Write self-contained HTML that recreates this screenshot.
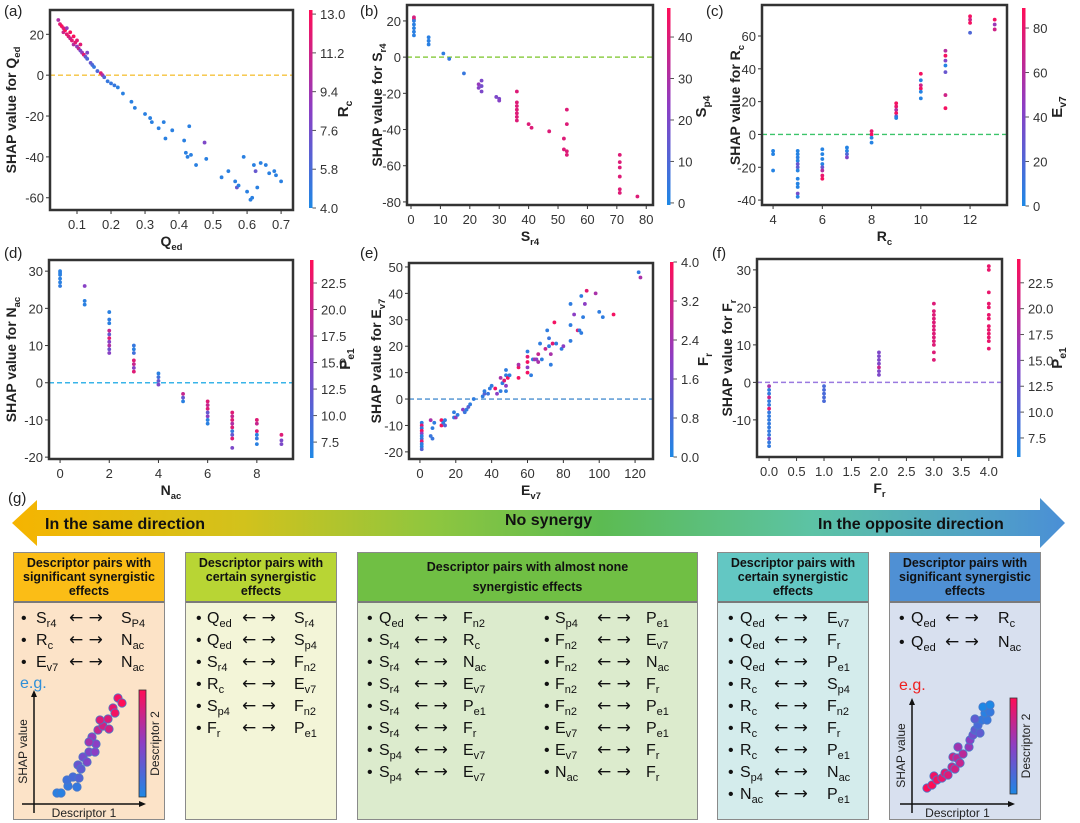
<!DOCTYPE html>
<html><head><meta charset="utf-8">
<style>
body{margin:0;width:1080px;height:823px;background:#fff;position:relative;overflow:hidden;font-family:"Liberation Sans",Arial,sans-serif}
#main{position:absolute;left:0;top:0;z-index:0}
#over{position:absolute;left:0;top:0;z-index:2;pointer-events:none}
.box{position:absolute;top:552px;height:268px;border:1.5px solid #8a8a8a;box-sizing:border-box;z-index:1}
.hd{height:50px;display:flex;align-items:center;justify-content:center;text-align:center;font-weight:bold;font-size:12.5px;line-height:14px;color:#111;border-bottom:2px solid #7a7a7a;box-sizing:border-box}
.row{position:absolute;left:0;height:20px;width:100%;font-size:16px;line-height:20px;color:#111}
.row span{position:absolute;top:0;white-space:nowrap}
.row .ar{font-family:"DejaVu Sans",sans-serif;font-size:17px;top:-1px}
sub{font-size:11px;vertical-align:-4px;line-height:0}
#b1 .b{left:7px}#b1 .t1{left:22px}#b1 .ar{left:55px}#b1 .t2{left:107px}
#b2 .b{left:10px}#b2 .t1{left:21px}#b2 .ar{left:56px}#b2 .t2{left:108px}
#b3 .b{left:9px}#b3 .t1{left:21px}#b3 .ar{left:56px}#b3 .t2{left:105px}
#b3 .c2 .b{left:186px}#b3 .c2 .t1{left:197px}#b3 .c2 .ar{left:239px}#b3 .c2 .t2{left:288px}
#b4 .b{left:10px}#b4 .t1{left:22px}#b4 .ar{left:56px}#b4 .t2{left:109px}
#b5 .b{left:9px}#b5 .t1{left:21px}#b5 .ar{left:55px}#b5 .t2{left:108px}
</style></head>
<body>
<svg id="main" width="1080" height="823" xmlns="http://www.w3.org/2000/svg">
<defs>
<linearGradient id="cb" x1="0" y1="1" x2="0" y2="0"><stop offset="0" stop-color="rgb(30,136,229)"/><stop offset="0.5" stop-color="rgb(140,62,196)"/><stop offset="1" stop-color="rgb(255,13,87)"/></linearGradient>
<linearGradient id="arr" x1="0" y1="0" x2="1" y2="0"><stop offset="0" stop-color="#f6b400"/><stop offset="0.22" stop-color="#d2c21c"/><stop offset="0.4" stop-color="#8ec63f"/><stop offset="0.56" stop-color="#5cbb52"/><stop offset="0.76" stop-color="#5cc3a5"/><stop offset="1" stop-color="#4a8fd6"/></linearGradient>
</defs>
<g>
<polygon points="12,523 37,500 37,510 1040,510 1040,498 1065,523 1040,548 1040,536 37,536 37,546" fill="url(#arr)"/>
<text x="45" y="529" font-size="16" font-weight="bold" fill="#111">In the same direction</text>
<text x="505" y="525" font-size="16" font-weight="bold" fill="#111">No synergy</text>
<text x="818" y="529" font-size="16" font-weight="bold" fill="#111">In the opposite direction</text>
</g>
<text x="8" y="503" font-size="15" fill="#222">(g)</text>
</svg>

<div class="box" id="b1" style="left:13px;width:152px;background:#fce3c8">
<div class="hd" style="background:#fbbd16">Descriptor pairs with significant synergistic effects</div>
<div class="row" style="top:56px"><span class="b">•</span><span class="t1">S<sub>r4</sub></span><span class="ar">← →</span><span class="t2">S<sub>P4</sub></span></div>
<div class="row" style="top:78px"><span class="b">•</span><span class="t1">R<sub>c</sub></span><span class="ar">← →</span><span class="t2">N<sub>ac</sub></span></div>
<div class="row" style="top:100px"><span class="b">•</span><span class="t1">E<sub>v7</sub></span><span class="ar">← →</span><span class="t2">N<sub>ac</sub></span></div>
</div>
<div class="box" id="b2" style="left:185px;width:152px;background:#f3f5d8">
<div class="hd" style="background:#b8d534">Descriptor pairs with certain synergistic effects</div>
<div class="row" style="top:56px"><span class="b">•</span><span class="t1">Q<sub>ed</sub></span><span class="ar">← →</span><span class="t2">S<sub>r4</sub></span></div>
<div class="row" style="top:78px"><span class="b">•</span><span class="t1">Q<sub>ed</sub></span><span class="ar">← →</span><span class="t2">S<sub>p4</sub></span></div>
<div class="row" style="top:100px"><span class="b">•</span><span class="t1">S<sub>r4</sub></span><span class="ar">← →</span><span class="t2">F<sub>n2</sub></span></div>
<div class="row" style="top:122px"><span class="b">•</span><span class="t1">R<sub>c</sub></span><span class="ar">← →</span><span class="t2">E<sub>v7</sub></span></div>
<div class="row" style="top:144px"><span class="b">•</span><span class="t1">S<sub>p4</sub></span><span class="ar">← →</span><span class="t2">F<sub>n2</sub></span></div>
<div class="row" style="top:166px"><span class="b">•</span><span class="t1">F<sub>r</sub></span><span class="ar">← →</span><span class="t2">P<sub>e1</sub></span></div>
</div>
<div class="box" id="b3" style="left:357px;width:341px;background:#dcebcd">
<div class="hd" style="background:#70bf44;line-height:20px">Descriptor pairs with almost none<br>synergistic effects</div>
<div class="row" style="top:56px"><span class="b">•</span><span class="t1">Q<sub>ed</sub></span><span class="ar">← →</span><span class="t2">F<sub>n2</sub></span></div>
<div class="row" style="top:78px"><span class="b">•</span><span class="t1">S<sub>r4</sub></span><span class="ar">← →</span><span class="t2">R<sub>c</sub></span></div>
<div class="row" style="top:100px"><span class="b">•</span><span class="t1">S<sub>r4</sub></span><span class="ar">← →</span><span class="t2">N<sub>ac</sub></span></div>
<div class="row" style="top:122px"><span class="b">•</span><span class="t1">S<sub>r4</sub></span><span class="ar">← →</span><span class="t2">E<sub>v7</sub></span></div>
<div class="row" style="top:144px"><span class="b">•</span><span class="t1">S<sub>r4</sub></span><span class="ar">← →</span><span class="t2">P<sub>e1</sub></span></div>
<div class="row" style="top:166px"><span class="b">•</span><span class="t1">S<sub>r4</sub></span><span class="ar">← →</span><span class="t2">F<sub>r</sub></span></div>
<div class="row" style="top:188px"><span class="b">•</span><span class="t1">S<sub>p4</sub></span><span class="ar">← →</span><span class="t2">E<sub>v7</sub></span></div>
<div class="row" style="top:210px"><span class="b">•</span><span class="t1">S<sub>p4</sub></span><span class="ar">← →</span><span class="t2">E<sub>v7</sub></span></div>
<div class="row c2" style="top:56px"><span class="b">•</span><span class="t1">S<sub>p4</sub></span><span class="ar">← →</span><span class="t2">P<sub>e1</sub></span></div>
<div class="row c2" style="top:78px"><span class="b">•</span><span class="t1">F<sub>n2</sub></span><span class="ar">← →</span><span class="t2">E<sub>v7</sub></span></div>
<div class="row c2" style="top:100px"><span class="b">•</span><span class="t1">F<sub>n2</sub></span><span class="ar">← →</span><span class="t2">N<sub>ac</sub></span></div>
<div class="row c2" style="top:122px"><span class="b">•</span><span class="t1">F<sub>n2</sub></span><span class="ar">← →</span><span class="t2">F<sub>r</sub></span></div>
<div class="row c2" style="top:144px"><span class="b">•</span><span class="t1">F<sub>n2</sub></span><span class="ar">← →</span><span class="t2">P<sub>e1</sub></span></div>
<div class="row c2" style="top:166px"><span class="b">•</span><span class="t1">E<sub>v7</sub></span><span class="ar">← →</span><span class="t2">P<sub>e1</sub></span></div>
<div class="row c2" style="top:188px"><span class="b">•</span><span class="t1">E<sub>v7</sub></span><span class="ar">← →</span><span class="t2">F<sub>r</sub></span></div>
<div class="row c2" style="top:210px"><span class="b">•</span><span class="t1">N<sub>ac</sub></span><span class="ar">← →</span><span class="t2">F<sub>r</sub></span></div>
</div>
<div class="box" id="b4" style="left:717px;width:152px;background:#d4ecec">
<div class="hd" style="background:#63c7c3">Descriptor pairs with certain synergistic effects</div>
<div class="row" style="top:56px"><span class="b">•</span><span class="t1">Q<sub>ed</sub></span><span class="ar">← →</span><span class="t2">E<sub>v7</sub></span></div>
<div class="row" style="top:78px"><span class="b">•</span><span class="t1">Q<sub>ed</sub></span><span class="ar">← →</span><span class="t2">F<sub>r</sub></span></div>
<div class="row" style="top:100px"><span class="b">•</span><span class="t1">Q<sub>ed</sub></span><span class="ar">← →</span><span class="t2">P<sub>e1</sub></span></div>
<div class="row" style="top:122px"><span class="b">•</span><span class="t1">R<sub>c</sub></span><span class="ar">← →</span><span class="t2">S<sub>p4</sub></span></div>
<div class="row" style="top:144px"><span class="b">•</span><span class="t1">R<sub>c</sub></span><span class="ar">← →</span><span class="t2">F<sub>n2</sub></span></div>
<div class="row" style="top:166px"><span class="b">•</span><span class="t1">R<sub>c</sub></span><span class="ar">← →</span><span class="t2">F<sub>r</sub></span></div>
<div class="row" style="top:188px"><span class="b">•</span><span class="t1">R<sub>c</sub></span><span class="ar">← →</span><span class="t2">P<sub>e1</sub></span></div>
<div class="row" style="top:210px"><span class="b">•</span><span class="t1">S<sub>p4</sub></span><span class="ar">← →</span><span class="t2">N<sub>ac</sub></span></div>
<div class="row" style="top:232px"><span class="b">•</span><span class="t1">N<sub>ac</sub></span><span class="ar">← →</span><span class="t2">P<sub>e1</sub></span></div>
</div>
<div class="box" id="b5" style="left:889px;width:152px;background:#d8e0ef">
<div class="hd" style="background:#4f90d4">Descriptor pairs with significant synergistic effects</div>
<div class="row" style="top:56px"><span class="b">•</span><span class="t1">Q<sub>ed</sub></span><span class="ar">← →</span><span class="t2">R<sub>c</sub></span></div>
<div class="row" style="top:80px"><span class="b">•</span><span class="t1">Q<sub>ed</sub></span><span class="ar">← →</span><span class="t2">N<sub>ac</sub></span></div>
</div>

<svg id="over" width="1080" height="823" xmlns="http://www.w3.org/2000/svg">
<text x="20" y="688" font-size="16" fill="#2f8fd8">e.g.</text>
<text x="899" y="690" font-size="16" fill="#ee2020">e.g.</text>
</svg>

<script>
const NS='http://www.w3.org/2000/svg';
// ---------- data ----------
const aX=[0.045,0.05,0.055,0.06,0.06,0.065,0.07,0.07,0.075,0.08,0.08,0.085,0.09,0.09,0.095,0.1,0.1,0.105,0.11,0.11,0.115,0.12,0.125,0.13,0.13,0.14,0.145,0.15,0.16,0.17,0.175,0.18,0.19,0.2,0.21,0.22,0.235,0.26,0.27,0.3,0.315,0.32,0.34,0.355,0.36,0.38,0.415,0.42,0.425,0.43,0.435,0.45,0.475,0.48,0.525,0.545,0.565,0.57,0.575,0.59,0.6,0.61,0.615,0.62,0.625,0.63,0.64,0.655,0.665,0.68,0.685,0.7];
const aY=[27,25,24,23,21,22,20,23,19,21,18,17,19,15,16,14,17,13,12,15,11,10,9,8,11,6,5,4,2,1,0,-1,-3,-4,-5,-6,-9,-13,-16,-19,-21,-23,-26,-23,-31,-27,-32,-38,-40,-25,-39,-44,-33,-41,-50,-47,-52,-55,-54,-40,-57,-61,-60,-44,-47,-55,-43,-44,-48,-47,-49,-52];
const aC=[10,12,13,12,11,13,12,9,12,13,11,12,13,10,12,9,12,11,8,12,9,12,7,6,8,7,6,5,6,12,10,6,5,5,5,4.5,4.5,4.5,4.5,4.5,4.5,4.5,4.5,4.5,4.5,4.5,4.5,4.5,4.5,4.5,4.5,4.5,8,4.5,4.5,4.5,4.5,7,4.5,4.5,4.5,4.5,4.5,4.5,7,4.5,4.5,4.5,4.5,4.5,4.5,4.5];
const aXTicks=[0.1,0.2,0.3,0.4,0.5,0.6,0.7];
const aYTicks=[20,0,-20,-40,-60];
const aCTicks=[4.0,5.8,7.6,9.4,11.2,13.0];

const bX=[1,1,1,1,1,1,1,6,6,6,11,13,18,23,23,24,24,24,29,30,30,36,36,36,36,36,36,36,40,41,47,52,52,53,53,53,53,71,71,71,71,71,71,77];
const bY=[22,21,20,18,16,14,12,11,9,7,2,-1,-9,-15,-17,-13,-16,-19,-22,-23,-24,-19,-25,-27,-29,-31,-33,-35,-37,-39,-41,-45,-51,-52,-29,-37,-54,-54,-58,-61,-66,-73,-75,-77];
const bC=[38,40,3,2,2,2,2,2,2,2,3,4,5,25,22,20,18,20,20,20,22,40,40,40,40,40,40,40,40,40,40,40,40,40,40,40,40,40,40,40,40,40,40,40];
const bXTicks=[0,10,20,30,40,50,60,70,80];
const bYTicks=[20,0,-20,-40,-60,-80];
const bCTicks=[0,10,20,30,40];

const cX=[4,4,4,5,5,5,5,5,5,5,5,5,5,5,5,6,6,6,6,6,6,6,6,7,7,7,7,8,8,8,8,9,9,9,9,9,9,10,10,10,10,10,10,11,11,11,11,11,11,11,12,12,12,12,13,13,13];
const cY=[-10,-12,-22,-10,-12,-14,-16,-18,-20,-22,-27,-30,-32,-36,-38,-9,-12,-15,-18,-20,-22,-25,-27,-8,-10,-12,-14,2,0,-2,-5,19,17,15,13,11,10,37,33,30,28,26,22,51,48,45,42,38,24,16,72,70,68,62,70,67,64];
const cC=[3,3,3,3,3,5,3,30,25,3,3,3,3,35,3,3,3,3,3,30,60,80,85,3,3,20,40,80,85,3,3,85,80,60,85,20,3,85,3,70,85,3,3,60,85,40,3,30,70,85,85,70,85,20,85,50,70];
const cXTicks=[4,6,8,10,12];
const cYTicks=[60,40,20,0,-20,-40];
const cCTicks=[0,20,40,60,80];

const dX=[0,0,0,0,0,0,1,1,1,2,2,2,2,2,2,2,2,2,2,3,3,3,3,3,3,3,4,4,4,4,5,5,5,6,6,6,6,6,6,6,7,7,7,7,7,7,7,7,7,8,8,8,8,8,8,9,9,9];
const dY=[30,29.5,29,28,27,26,26,22,21,19,17,16,14,13,12,11,10,9,8,10,9,8,6,5,4,3,2.5,1.5,0.5,-0.5,-3,-4,-5,-5,-6,-7,-8,-9,-10,-11,-8,-9,-10,-11,-12,-13,-14,-15,-17.5,-10,-11,-13,-14,-15,-16.5,-14,-15.5,-16.5];
const dC=[7,7,7,7,7,7.5,15,7,7,7,7.5,7,20,12,22,15,18,13,15,8,7,9,22,20,15,22,7,9,12,14,20,12,7,22,20,22,12,15,7,7,22,20,22,18,22,8,12,22,14,22,20,22,7,8,7,22,14,14];
const dXTicks=[0,2,4,6,8];
const dYTicks=[30,20,10,0,-10,-20];
const dCTicks=[7.5,10.0,12.5,15.0,17.5,20.0,22.5];

const eX=[1,1,1,1,1,1,1,1,1,1,1,6,6,7,7,8,12,12,13,14,14,19,19,20,21,24,25,26,27,28,30,35,36,36,38,39,40,42,43,45,45,46,47,48,48,48,48,49,50,55,55,55,60,60,60,60,60,62,63,64,65,66,66,67,68,70,71,72,72,73,73,74,75,76,79,80,84,84,84,86,88,89,90,90,91,92,93,98,100,102,108,122,123];
const eY=[-9,-10,-11,-12,-13,-14,-15,-16,-17,-18,-19,-8,-14,-15,-11,-9,-10,-8,-9,-8,-10,-5,-7,-7,-6,-4,-5,-4,-3,-2,0,1,2,3,2,4,5,4,2,3,8,6,7,9,5,11,3,8,9,8,12,13,18,16,14,12,10,9,15,15,15,14,17,21,15,19,26,20,23,17,13,21,29,21,19,20,36,28,22,32,26,26,25,39,31,36,41,40,33,31,32,48,46];
const eC=[0.2,3.5,0.3,3.8,2,0.2,0.5,3.5,0.3,0.2,1,2.5,0.5,0.5,0.3,0.3,3.8,3.8,0.3,0.3,1,0.3,0.3,2.2,0.3,2,0.5,0.3,1,0.3,0.3,0.3,1,0.3,0.5,0.3,0.3,3.8,2,0.3,2.5,0.3,3.5,0.3,2,0.3,0.3,3.8,0.3,3.8,3.8,2.5,0.3,3.5,3.8,2,3.8,0.3,0.3,2.5,2,2.5,3,0.3,0.3,3,0.3,0.3,0.5,2.5,0.3,3.5,3.8,0.3,0.3,2,0.3,0.3,0.3,2,3.5,0.3,0.3,0.3,0.3,2,3.5,2.5,0.3,0.3,3.8,0.3,2.5];
const eXTicks=[0,20,40,60,80,100,120];
const eYTicks=[50,40,30,20,10,0,-10,-20];
const eCTicks=[0.0,0.8,1.6,2.4,3.2,4.0];

const fX=[0,0,0,0,0,0,0,0,0,0,0,0,0,0,0,0,0,1,1,1,1,1,2,2,2,2,2,2,2,3,3,3,3,3,3,3,3,3,3,3,3,3,4,4,4,4,4,4,4,4,4,4,4,4,4];
const fY=[-1,-2,-3,-4,-5,-6,-7,-8,-9,-10,-11,-12,-13,-14,-15,-16,-17,-1,-2,-3,-4,-5,2,3,4,5,6,7,8,6,8,10,11,12,13,14,15,16,17,18,19,21,9,11,12,13,14,15,17,18,20,21,24,30,31];
const fC=[17,7.5,7.5,20,7.5,7.5,22,7.5,7.5,7.5,7.5,7.5,7.5,7.5,14,7.5,7.5,9.5,9.5,9.5,9.5,9.5,14,14,20,14,14,14,14,22,22,22,22,22,22,22,22,22,22,22,22,22,23,23,23,23,23,23,23,23,23,23,23,23,23];
const fXTicks=[0.0,0.5,1.0,1.5,2.0,2.5,3.0,3.5,4.0];
const fYTicks=[30,20,10,0,-10];
const fCTicks=[7.5,10.0,12.5,15.0,17.5,20.0,22.5];

// example illustrations (descriptor 1, SHAP, descriptor 2 in 0..1)
const ex1X=[57,61,68,67,73,77,79,78,81,83,87,89,95,92,96,89,98,103,100,109,108,113,115,118,122];
const ex1Y=[303,303,296,290,287,297,288,275,279,267,272,262,262,247,254,252,240,236,230,239,229,218,223,208,213];
const ex1C=[0.05,0.05,0.1,0.15,0.2,0.1,0.25,0.35,0.3,0.4,0.45,0.45,0.5,0.55,0.5,0.6,0.75,0.8,0.85,0.8,0.85,0.9,0.95,0.95,1];
const ex2X=[387,392,394,397,402,405,408,412,415,413,417,420,423,418,429,430,433,435,440,438,442,447,445,450,435,443,450];
const ex2Y=[298,295,286,290,288,283,285,277,279,267,268,273,264,257,257,250,245,240,243,235,230,230,223,222,229,217,215];
const ex2C=[1,1,0.95,0.95,0.9,0.9,0.85,0.8,0.8,0.8,0.7,0.75,0.7,0.6,0.55,0.5,0.4,0.3,0.3,0.2,0.1,0.1,0.05,0.1,0.3,0,0];

// ---------- helpers ----------
function mk(tag,attrs,parent){const e=document.createElementNS(NS,tag);for(const k in attrs)e.setAttribute(k,attrs[k]);parent.appendChild(e);return e;}
function cmap(t){t=Math.max(0,Math.min(1,t));const A=[30,136,229],M=[140,62,196],B=[255,13,87];let p,q,u;if(t<0.5){p=A;q=M;u=t*2;}else{p=M;q=B;u=(t-0.5)*2;}return 'rgb('+p.map((v,i)=>Math.round(v+(q[i]-v)*u)).join(',')+')';}
function lbl(parent,x,y,main,sub,rot,size,bold){
  const t=mk('text',{x:x,y:y,'font-size':size,'font-weight':bold?'bold':'normal',fill:'#222','text-anchor':'middle'},parent);
  if(rot)t.setAttribute('transform','rotate(-90 '+x+' '+y+')');
  const a=mk('tspan',{},t);a.textContent=main;
  if(sub){const b=mk('tspan',{dy:4,'font-size':size*0.68},t);b.textContent=sub;}
  return t;
}
const svg=document.getElementById('main');
function panel(p,xs,ys,cs,xt,yt,ct){
  const g=mk('g',{},svg);
  
  
  const sx=v=>p.l+(v-p.xd[0])/(p.xd[1]-p.xd[0])*(p.r-p.l);
  const sy=v=>p.b-(v-p.yd[0])/(p.yd[1]-p.yd[0])*(p.b-p.t);
  const cy=v=>p.cb-(v-p.cd[0])/(p.cd[1]-p.cd[0])*(p.cb-p.ct);
  const z=mk('line',{x1:p.l,x2:p.r,y1:sy(0),y2:sy(0),stroke:p.zc,'stroke-width':1.4,'stroke-dasharray':'5,3'},g);
  
  
  for(let i=0;i<xs.length;i++){
    const d=mk('circle',{cx:sx(xs[i]),cy:sy(ys[i]),r:1.9,fill:cmap((cs[i]-p.cd[0])/(p.cd[1]-p.cd[0]))},g);
    
    
  }
  const fr=mk('rect',{x:p.l,y:p.t,width:p.r-p.l,height:p.b-p.t,fill:'none',stroke:'#333','stroke-width':2.5},g);
  
  
  xt.forEach(v=>{mk('line',{x1:sx(v),x2:sx(v),y1:p.b,y2:p.b+4,stroke:'#333','stroke-width':1},g);
    const t=mk('text',{x:sx(v),y:p.b+19,'font-size':13,fill:'#333','text-anchor':'middle'},g);t.textContent=p.xf?v.toFixed(p.xf):String(v);
    
    });
  yt.forEach(v=>{mk('line',{x1:p.l-4,x2:p.l,y1:sy(v),y2:sy(v),stroke:'#333','stroke-width':1},g);
    const t=mk('text',{x:p.l-6,y:sy(v)+5,'font-size':13,fill:'#333','text-anchor':'end'},g);t.textContent=String(v);
    
    });
  const cb=mk('rect',{x:p.cx,y:p.ct,width:3.5,height:p.cb-p.ct,fill:'url(#cb)'},g);
  
  
  ct.forEach(v=>{mk('line',{x1:p.cx+3.5,x2:p.cx+7,y1:cy(v),y2:cy(v),stroke:'#555','stroke-width':1},g);
    const t=mk('text',{x:p.cx+11,y:cy(v)+5,'font-size':13,fill:'#333'},g);t.textContent=v.toFixed(p.cf);
    
    });
  const yl=lbl(g,p.ylx,(p.t+p.b)/2,'SHAP value for ',p.ys,true,14,true);yl.lastChild.previousSibling.textContent='SHAP value for '+p.ym;
  
  
  const xl=lbl(g,(p.l+p.r)/2,p.b+36,p.ym,p.ys,false,14,true);
  
  
  const cl=lbl(g,p.clx,(p.ct+p.cb)/2,p.cm,p.cs,true,15,true);
  
  
  const pl=mk('text',{x:p.px,y:p.py,'font-size':15,fill:'#222'},g);pl.textContent=p.letter;
  
  
}
panel({name:'panel-a',letter:'(a)',px:4,py:16,l:50,r:293,t:10,b:210,xd:[0.0206,0.735],yd:[-66,31.9],xf:1,cx:309,ct:10,cb:208,cd:[4,13.19],cf:1,zc:'#f5c23c',ylx:16,ym:'Q',ys:'ed',clx:348,cm:'R',cs:'c'},aX,aY,aC,aXTicks,aYTicks,aCTicks);
panel({name:'panel-b',letter:'(b)',px:360,py:16,l:407,r:653,t:5,b:205,xd:[-1.36,82.3],yd:[-81.7,28.8],cx:667,ct:8,cb:205,cd:[-0.5,47],cf:0,zc:'#8fce4a',ylx:382,ym:'S',ys:'r4',clx:706,cm:'S',cs:'p4'},bX,bY,bC,bXTicks,bYTicks,bCTicks);
panel({name:'panel-c',letter:'(c)',px:706,py:16,l:762,r:1007,t:5,b:205,xd:[3.55,13.5],yd:[-43,78.9],cx:1022,ct:8,cb:206,cd:[0,89],cf:0,zc:'#3cc46a',ylx:740,ym:'R',ys:'c',clx:1062,cm:'E',cs:'v7'},cX,cY,cC,cXTicks,cYTicks,cCTicks);
panel({name:'panel-d',letter:'(d)',px:4,py:258,l:49,r:293,t:260,b:459,xd:[-0.45,9.47],yd:[-20.5,33],cx:310,ct:260,cb:458,cd:[6.0,24.67],cf:1,zc:'#39b4e8',ylx:16,ym:'N',ys:'ac',clx:350,cm:'P',cs:'e1'},dX,dY,dC,dXTicks,dYTicks,dCTicks);
panel({name:'panel-e',letter:'(e)',px:360,py:258,l:409,r:653,t:263,b:459,xd:[-6.1,130],yd:[-22.7,51.5],cx:670,ct:262,cb:457,cd:[0,4],cf:1,zc:'#4a8fd0',ylx:381,ym:'E',ys:'v7',clx:708,cm:'F',cs:'r'},eX,eY,eC,eXTicks,eYTicks,eCTicks);
panel({name:'panel-f',letter:'(f)',px:712,py:258,l:757,r:1002,t:259,b:457,xd:[-0.22,4.24],yd:[-19.9,32.9],xf:1,cx:1017,ct:259,cb:457,cd:[5.66,24.8],cf:1,zc:'#9a7ae0',ylx:732,ym:'F',ys:'r',clx:1062,cm:'P',cs:'e1'},fX,fY,fC,fXTicks,fYTicks,fCTicks);

// example mini plots
const ov=document.getElementById('over');
function example(name,ax,ayTop,ayBot,hx0,hx1,cbx,cbTop,cbBot,xs,ys,cs,xoff,yoff){
  const g=mk('g',{},ov);
  
  
  mk('line',{x1:ax,x2:ax,y1:ayBot,y2:ayTop+6,stroke:'#111','stroke-width':1.5},g);
  mk('polygon',{points:(ax-3)+','+(ayTop+7)+' '+ax+','+ayTop+' '+(ax+3)+','+(ayTop+7),fill:'#111'},g);
  const hy=ayBot-9;
  mk('line',{x1:hx0,x2:hx1-6,y1:hy,y2:hy,stroke:'#111','stroke-width':1.5},g);
  mk('polygon',{points:(hx1-7)+','+(hy-3)+' '+hx1+','+hy+' '+(hx1-7)+','+(hy+3),fill:'#111'},g);
  for(let i=0;i<xs.length;i++){
    const d=mk('circle',{cx:xs[i]+xoff,cy:ys[i]+yoff,r:4.2,fill:cmap(cs[i]),stroke:'#4a78c8','stroke-width':0.8},g);
    
    
  }
  mk('rect',{x:cbx,y:cbTop,width:7,height:cbBot-cbTop,fill:'url(#cb)',stroke:'#333','stroke-width':0.8},g);
  const t1=mk('text',{x:(hx0+hx1)/2,y:ayBot+4,'font-size':12,fill:'#222','text-anchor':'middle'},g);t1.textContent='Descriptor 1';
  const t2=mk('text',{x:ax-7,y:(ayTop+ayBot)/2,'font-size':12,fill:'#222','text-anchor':'middle',transform:'rotate(-90 '+(ax-7)+' '+((ayTop+ayBot)/2)+')'},g);t2.textContent='SHAP value';
  const t3=mk('text',{x:cbx+20,y:(cbTop+cbBot)/2,'font-size':12,fill:'#222','text-anchor':'middle',transform:'rotate(-90 '+(cbx+20)+' '+((cbTop+cbBot)/2)+')'},g);t3.textContent='Descriptor 2';
}
example('example-plot-same',34,690,813,22,146,139,690,797,ex1X,ex1Y,ex1C,0,490);
example('example-plot-opposite',912,698,813,900,1015,1010,698,794,ex2X,ex2Y,ex2C,540,490);
</script>
</body></html>
